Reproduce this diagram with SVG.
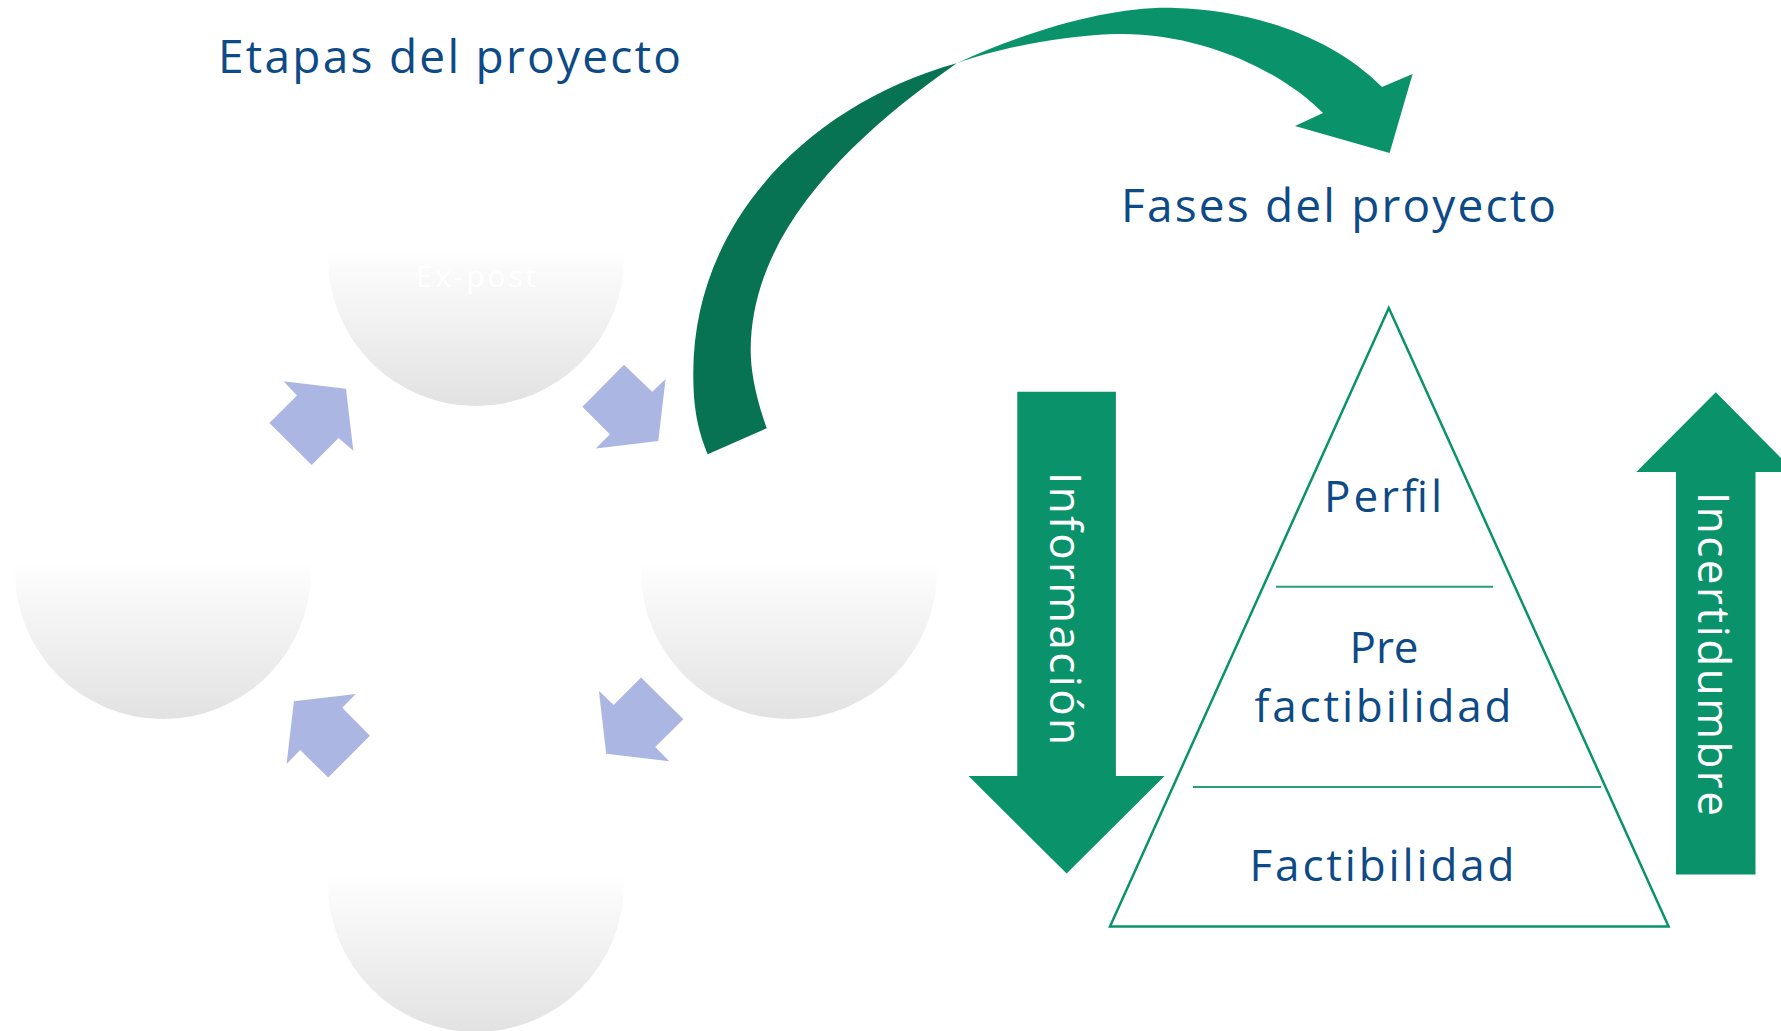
<svg xmlns="http://www.w3.org/2000/svg" width="1781" height="1031" viewBox="0 0 1781 1031">
<style>
.title{font-family:"Open Sans","Liberation Sans",sans-serif;font-size:46px;fill:#0d4a86}
.lvl{font-family:"Open Sans","Liberation Sans",sans-serif;font-size:44px;fill:#0d4a86;text-anchor:middle}
.vt{font-family:"Open Sans","Liberation Sans",sans-serif;font-size:44px;fill:#ffffff;text-anchor:middle}
.circ{fill:url(#gr)}
.blue{fill:#abb7e2}
.grn{fill:#0a936a}
.sep{stroke:#2a9d7c;stroke-width:2;fill:none}
</style>
<defs>
<linearGradient id="gr" x1="0" y1="0" x2="0" y2="1">
<stop offset="0" stop-color="#ffffff"/>
<stop offset="0.47" stop-color="#ffffff"/>
<stop offset="0.53" stop-color="#fbfbfb"/>
<stop offset="1" stop-color="#e2e2e2"/>
</linearGradient>
</defs>
<rect width="1781" height="1031" fill="#ffffff"/>

<g id="title-etapas"><text class="title" x="218" y="73" textLength="463" lengthAdjust="spacing">Etapas del proyecto</text></g>
<g id="title-fases"><text class="title" x="1121" y="222" textLength="435" lengthAdjust="spacing">Fases del proyecto</text></g>

<g id="circle-top"><circle class="circ" cx="476" cy="258" r="148"/>
<text x="476" y="287" font-family="'Open Sans','Liberation Sans',sans-serif" font-size="30" fill="#ffffff" text-anchor="middle" textLength="120" lengthAdjust="spacing">Ex-post</text></g>
<g id="circle-left"><circle class="circ" cx="163" cy="571" r="148"/></g>
<g id="circle-right"><circle class="circ" cx="789" cy="571" r="148"/></g>
<g id="circle-bottom"><circle class="circ" cx="476" cy="884" r="148"/></g>

<g id="connectors">
<polygon class="blue" points="283.5,381.2 346,388.7 353.3,450.7 338.6,437.9 311.7,465 269.4,423.1 297,395.5"/>
<polygon class="blue" points="624,364.8 652.2,391.8 665.6,379.1 658.3,441.1 595.8,448.5 609.9,434.2 582.4,406.7"/>
<polygon class="blue" points="641.1,677.5 683.4,719.3 655.2,746.9 669.3,761.2 606.2,753.8 598.9,690.7 613.6,705"/>
<polygon class="blue" points="355.8,693.9 342.3,707.7 369.9,735.8 328.2,777.6 300.1,750.1 286.6,763.9 293.9,701.3"/>
<path id="curved-dark" fill="#077352" d="M956.7,63.3 C806.7,105.3 693.3,223.3 693.3,373.3 C693.3,410 698,430 707.7,454.3 L766.7,428.3 C755,395 750.7,370 750.7,350 C750.7,230 856.7,133.3 956.7,63.3 Z"/>
<path id="curved-light" fill="#0a936a" d="M956.7,63.3 C1040,25 1120,6 1175,8 C1250,10 1330,35 1382,87 L1412.6,74 L1389.6,153 L1295,126 L1323,113 C1280,70 1200,32 1115,34 C1060,36 1000,48 956.7,63.3 Z"/>
</g>

<g id="arrow-informacion">
<polygon class="grn" points="1017.3,391.8 1115.9,391.8 1115.9,776 1164.6,776 1066.6,873.5 968.5,776 1017.3,776"/>
<text class="vt" transform="translate(1050,608.5) rotate(90)" textLength="273" lengthAdjust="spacing">Información</text>
</g>

<g id="arrow-incertidumbre">
<polygon class="grn" points="1715.8,392.3 1795,472 1755.5,472 1755.5,874.4 1676,874.4 1676,472 1636.3,472"/>
<text class="vt" transform="translate(1698,654) rotate(90)" textLength="324" lengthAdjust="spacing">Incertidumbre</text>
</g>

<g id="pyramid">
<polygon points="1388.8,308 1110,926.4 1668.6,926.4" fill="none" stroke="#0a936a" stroke-width="2.5"/>
<line class="sep" x1="1276" y1="586.7" x2="1493" y2="586.7"/>
<line class="sep" x1="1193" y1="787" x2="1601" y2="787"/>
</g>
<g id="level-perfil"><text class="lvl" x="1383" y="512" textLength="118" lengthAdjust="spacing">Perfil</text></g>
<g id="level-prefactibilidad"><text class="lvl" x="1384" y="662.5" textLength="69" lengthAdjust="spacing">Pre</text>
<text class="lvl" x="1383" y="721.5" textLength="257" lengthAdjust="spacing">factibilidad</text></g>
<g id="level-factibilidad"><text class="lvl" x="1382" y="880.5" textLength="265" lengthAdjust="spacing">Factibilidad</text></g>
</svg>
